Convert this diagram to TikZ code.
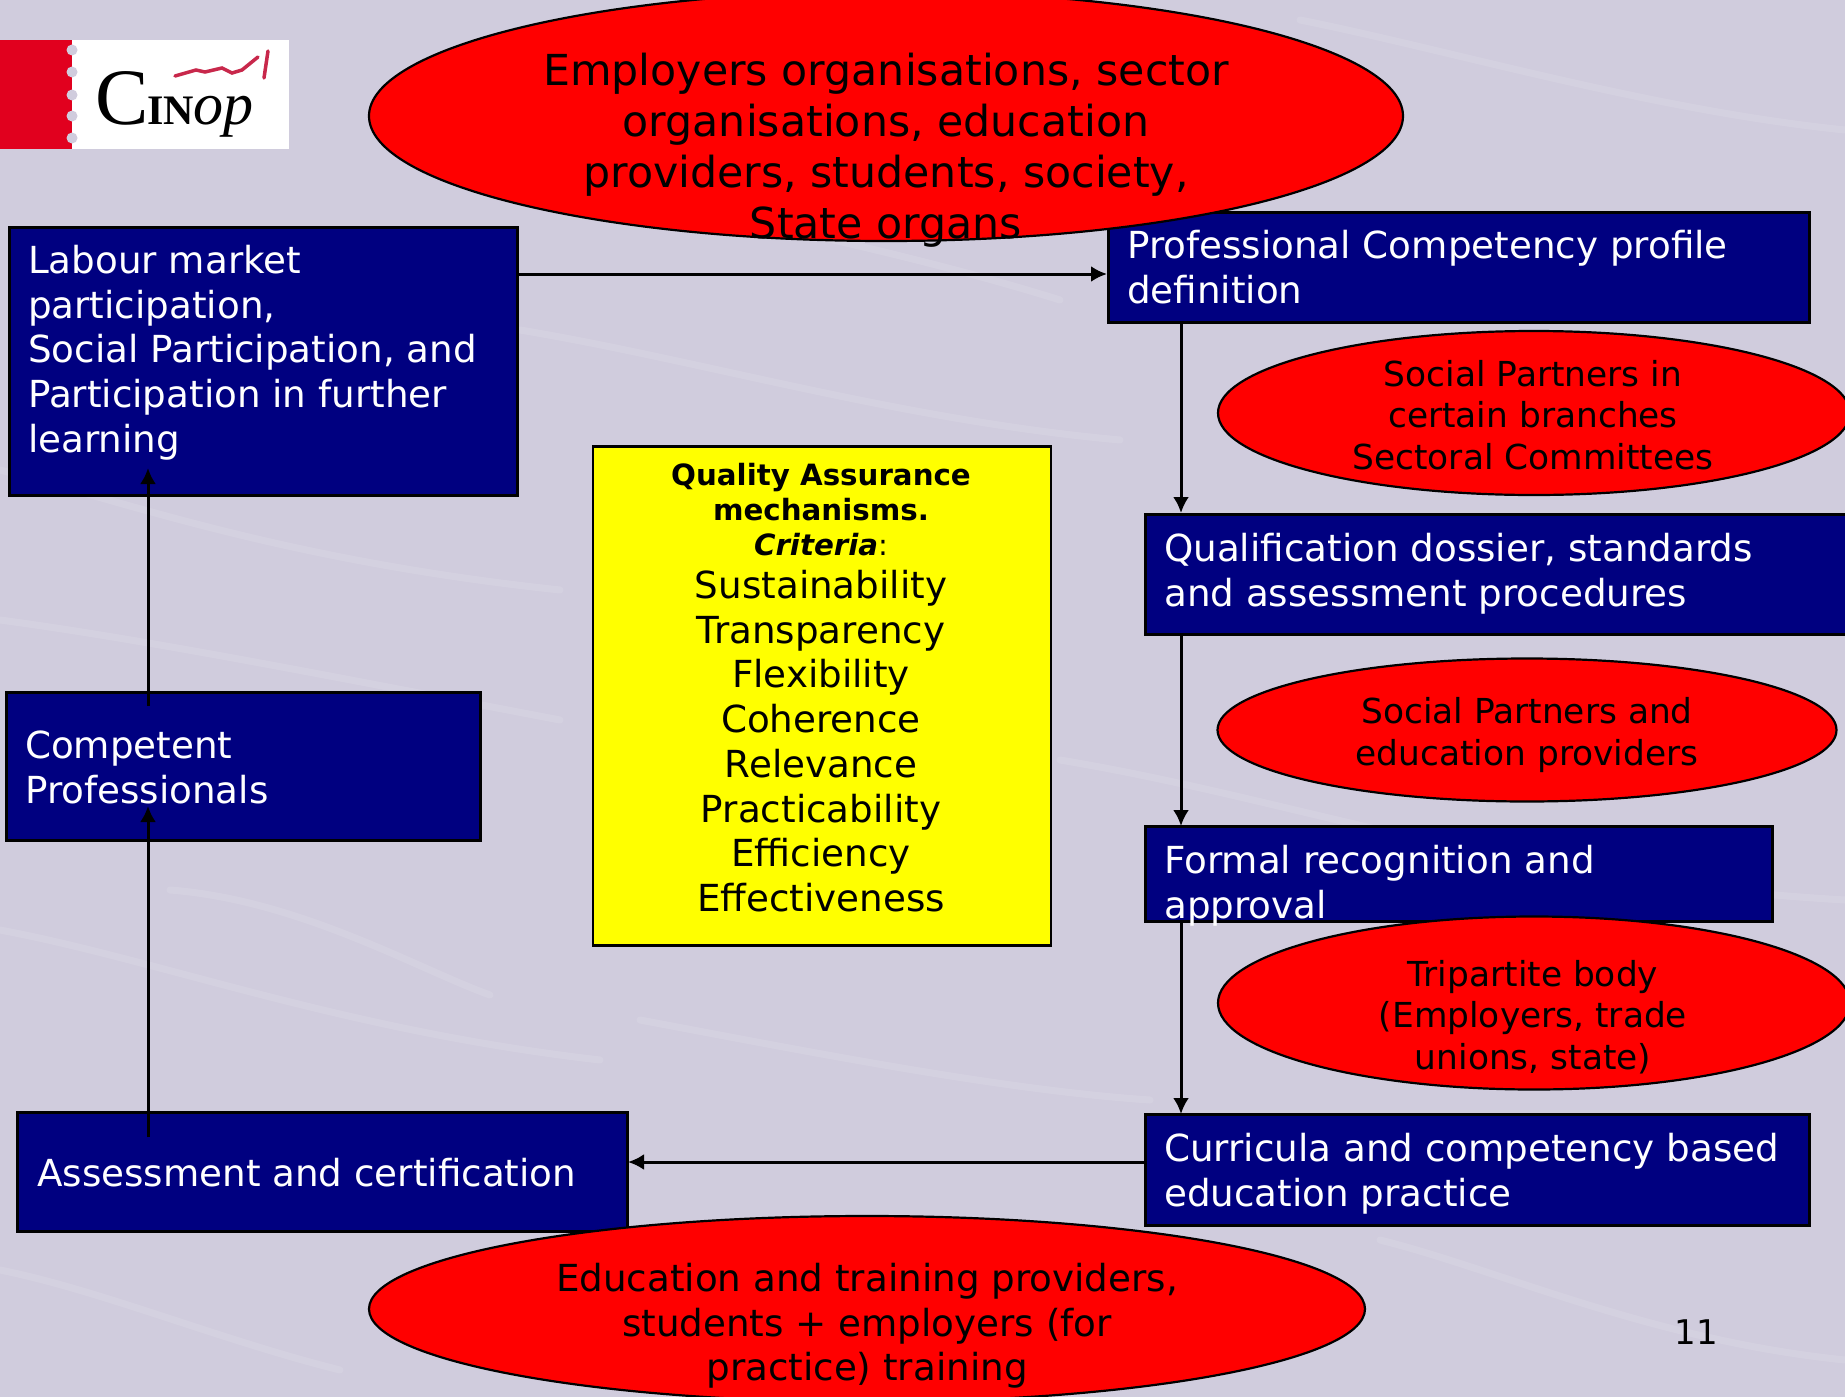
\documentclass[tikz,border=0pt]{standalone}
\usepackage{fontspec}
\setmainfont{DejaVu Sans}
\newfontfamily\logofont{Liberation Serif}
\usetikzlibrary{arrows.meta,shapes.geometric}
\definecolor{bgcol}{RGB}{208,204,221}
\definecolor{navybox}{RGB}{0,0,128}
\definecolor{logored}{RGB}{225,0,30}
\definecolor{markred}{RGB}{200,40,75}
\definecolor{pureyellow}{RGB}{255,255,0}
\definecolor{purered}{RGB}{255,0,0}
\newcommand{\bigtxt}{\fontsize{37.25}{44.7}\selectfont}
\newcommand{\toptxt}{\fontsize{42.7}{51}\selectfont}
\newcommand{\midtxt}{\fontsize{34.4}{41.2}\selectfont}
\newcommand{\smalltxt}{\fontsize{29.3}{35}\selectfont}
\tikzset{
  bluebox/.style={draw=black,fill=navybox,line width=2.8pt,rectangle,anchor=north west,inner sep=0pt},
  bluetext/.style={text=white,anchor=north west,align=left,inner sep=0pt,font=\bigtxt},
  redell/.style={draw=black,fill=purered,line width=2.2pt,ellipse,inner sep=0pt},
  redtext/.style={text=black,align=center,inner sep=0pt},
  yellowbox/.style={draw=black,fill=pureyellow,line width=2.8pt,rectangle,anchor=north west,inner sep=0pt},
  link/.style={draw=black,line width=3pt,-{Latex[length=16pt,width=16pt]}},
  streak/.style={white,opacity=0.10,line width=7pt,line cap=round}
}
\begin{document}
\begin{tikzpicture}[x=1pt,y=-1pt]
\useasboundingbox (0,0) rectangle (1845,1397);
\clip (0,0) rectangle (1845,1397);
\fill[bgcol] (0,0) rectangle (1845,1397);
% background texture
\draw[streak] (0,470) .. controls (120,500) and (280,560) .. (560,590);
\draw[streak] (520,330) .. controls (700,360) and (900,420) .. (1120,440);
\draw[streak] (0,930) .. controls (160,960) and (340,1030) .. (600,1060);
\draw[streak] (170,890) .. controls (300,900) and (420,970) .. (490,995);
\draw[streak] (1060,760) .. controls (1300,800) and (1500,880) .. (1845,900);
\draw[streak] (640,1020) .. controls (800,1050) and (1000,1090) .. (1150,1100);
\draw[streak] (1380,1240) .. controls (1500,1270) and (1650,1340) .. (1845,1360);
\draw[streak] (1300,20) .. controls (1450,50) and (1650,110) .. (1845,130);
\draw[streak] (0,620) .. controls (150,640) and (350,680) .. (560,720);
\draw[streak] (540,180) .. controls (700,210) and (900,250) .. (1060,300);
\draw[streak] (0,1270) .. controls (100,1290) and (220,1340) .. (340,1370);
% logo
\fill[white] (0,40) rectangle (289,149);
\fill[logored] (0,40) rectangle (72,149);
\foreach \ly in {50,72,95,116,138}{\fill[bgcol] (72,\ly) circle (5.5pt);}
\node[anchor=base west,inner sep=0pt,text=black] (logotext) at (95,124)
  {\logofont{\fontsize{80}{80}\selectfont C}\hspace{-1pt}{\fontsize{42}{42}\selectfont\bfseries IN}\hspace{-1pt}{\fontsize{60}{60}\selectfont\itshape op}};
\draw[markred,line width=3.5pt,line cap=round] (175,76) -- (196,70) -- (205,72) -- (222,68) -- (232,73) -- (242,70) -- (258,57);
\draw[markred,line width=3.5pt,line cap=round] (264,78) -- (268,51);
% boxes
\node[bluebox,minimum width=508pt,minimum height=268pt] (lab) at (8,226) {};
\node[bluebox,minimum width=701pt,minimum height=110pt] (prof) at (1107,211) {};
\node[bluebox,minimum width=720pt,minimum height=120pt] (qual) at (1144,513) {};
\node[bluebox,minimum width=627pt,minimum height=95pt] (formal) at (1144,825) {};
\node[bluebox,minimum width=664pt,minimum height=111pt] (curr) at (1144,1113) {};
\node[bluebox,minimum width=610pt,minimum height=119pt] (assess) at (16,1111) {};
\node[bluebox,minimum width=474pt,minimum height=148pt] (comp) at (5,691) {};
% connectors
\coordinate (labout) at (518,274);
\coordinate (profin) at (1107,274);
\coordinate (profout) at (1181,322);
\coordinate (qualin) at (1181,513);
\coordinate (qualout) at (1181,634);
\coordinate (formalin) at (1181,826);
\coordinate (formalout) at (1181,921);
\coordinate (currin) at (1181,1114);
\coordinate (currout) at (1144,1162);
\coordinate (assessin) at (628,1162);
\coordinate (assessout) at (148,1137);
\coordinate (compin) at (148,806);
\coordinate (compout) at (148,706);
\coordinate (labin) at (148,468);
\draw[link] (labout) -- (profin);
\draw[link] (profout) -- (qualin);
\draw[link] (qualout) -- (formalin);
\draw[link] (formalout) -- (currin);
\draw[link] (currout) -- (assessin);
\draw[link] (assessout) -- (compin);
\draw[link] (compout) -- (labin);
% ellipses
\node[redell,minimum width=1034pt,minimum height=250pt] (top) at (886,116) {};
\node[redell,minimum width=632pt,minimum height=164pt] (sp1) at (1534,413) {};
\node[redell,minimum width=619pt,minimum height=143pt] (sp2) at (1527,730) {};
\node[redell,minimum width=632pt,minimum height=173pt] (tri) at (1534,1003) {};
\node[redell,minimum width=996pt,minimum height=186pt] (bot) at (867,1309) {};
% yellow
\node[yellowbox,minimum width=458pt,minimum height=499pt] (qa) at (591.5,445) {};
% texts
\node[bluetext] (labt) at (28,245) {Labour market\\participation,\\Social Participation, and\\Participation in further\\learning};
\node[bluetext] (proft) at (1127,230) {Professional Competency profile\\definition};
\node[bluetext] (qualt) at (1164,533) {Qualification dossier, standards\\and assessment procedures};
\node[bluetext] (formalt) at (1164,845) {Formal recognition and\\approval};
\node[bluetext] (currt) at (1164,1133) {Curricula and competency based\\education practice};
\node[bluetext,anchor=west] (assesst) at (37,1173) {Assessment and certification};
\node[bluetext] (compt) at (25,731) {Competent\\Professionals};
\node[redtext,font=\toptxt] (topt) at (886,150) {Employers organisations, sector\\organisations, education\\providers, students, society,\\State organs};
\node[redtext,font=\midtxt] (sp1t) at (1533,415) {Social Partners in\\certain branches\\Sectoral Committees};
\node[redtext,font=\midtxt] (sp2t) at (1527,735) {Social Partners and\\education providers};
\node[redtext,font=\midtxt] (trit) at (1533,1017) {Tripartite body\\(Employers, trade\\unions, state)};
\node[redtext,font=\bigtxt] (bott) at (867,1326) {Education and training providers,\\students + employers (for\\practice) training};
\node[redtext,anchor=north,font=\smalltxt] (qah) at (821,463) {\textbf{Quality Assurance}\\\textbf{mechanisms.}\\\textbf{\textit{Criteria}}:};
\node[redtext,anchor=north,font=\bigtxt] (qal) at (821,570) {Sustainability\\Transparency\\Flexibility\\Coherence\\Relevance\\Practicability\\Efficiency\\Effectiveness};
\node[text=black,inner sep=0pt,font=\fontsize{34}{41}\selectfont] (num) at (1696,1332) {11};
\end{tikzpicture}
\end{document}
